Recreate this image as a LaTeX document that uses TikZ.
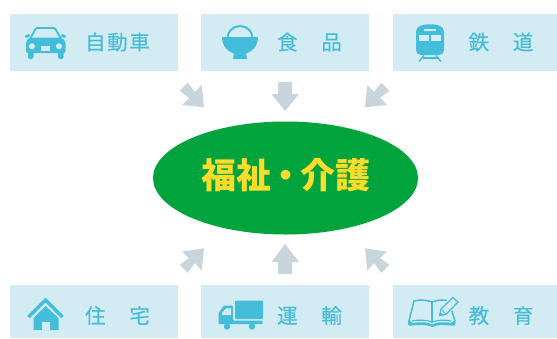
\documentclass[tikz,border=0pt]{standalone}
\usepackage{fontspec}
\usetikzlibrary{shapes.geometric}
\setmainfont{Noto Sans CJK JP}
\definecolor{boxc}{HTML}{D3ECF4}
\definecolor{icon}{HTML}{43BDD9}
\definecolor{labelc}{HTML}{45BCD8}
\definecolor{arrowc}{HTML}{C9D5DD}
\definecolor{hub}{HTML}{00A33C}
\definecolor{hubtext}{HTML}{FFDC2B}
\tikzset{
 x=1pt,y=-1pt,
 card/.style={fill=boxc,draw=none},
 cardlabel/.style={text=labelc,font=\fontsize{20.5}{24}\selectfont\addfontfeature{LetterSpace=8,FakeBold=0.3},inner sep=0pt,anchor=center},
 flow/.style={fill=arrowc,draw=none},
 ink/.style={fill=icon,draw=none},
 pen/.style={draw=icon,fill=none,line width=2pt},
 cut/.style={fill=boxc,draw=none},
}
\begin{document}
\begin{tikzpicture}
\useasboundingbox (0,0) rectangle (557,338);
\fill[white] (0,0) rectangle (557,338);
% cards
\fill[card] (10,14) rectangle (178,71);
\fill[card] (201,14) rectangle (369,71);
\fill[card] (393,14) rectangle (557,71);
\fill[card] (10,285) rectangle (178,338);
\fill[card] (201,285) rectangle (369,338);
\fill[card] (393,285) rectangle (557,338);
% labels
\node[cardlabel] (l1) at (117.5,42) {自動車};
\node[cardlabel] (l2) at (309.5,42) {食　品};
\node[cardlabel] (l3) at (501,42) {鉄　道};
\node[cardlabel] (l4) at (117.5,315.5) {住　宅};
\node[cardlabel] (l5) at (309.5,315.5) {運　輸};
\node[cardlabel] (l6) at (501,315.5) {教　育};
% hub
\node[ellipse,minimum width=265pt,minimum height=113pt,inner sep=0pt,fill=hub] (hub) at (285.5,178) {};
\node[text=hubtext,inner sep=0pt,font=\fontsize{35}{40}\bfseries\selectfont] (hubt) at (286,175.5) {福祉\kern-3pt・\kern-2.5pt介護};
% arrows
\fill[flow] (204,107.3)--(182,105)--(189,98)--(179.7,90.7)--(187.7,82.7)--(195,92)--(201.7,85)--cycle;
\fill[flow] (365,107.3)--(387,105)--(380,98)--(389.3,90.7)--(381.3,82.7)--(374,92)--(367.3,85)--cycle;
\fill[flow] (285,111)--(271.5,94)--(278,94)--(278,82)--(292,82)--(292,94)--(299,94)--cycle;
\fill[flow] (204,248.3)--(182,251.7)--(189,258)--(179.7,264.7)--(187.7,272.7)--(195,263)--(201.7,270.7)--cycle;
\fill[flow] (365,248.3)--(387,251.7)--(380,258)--(389.3,264.7)--(381.3,272.7)--(374,263)--(367.3,270.7)--cycle;
\fill[flow] (285,244)--(271.5,262)--(278,262)--(278,274)--(292,274)--(292,262)--(299,262)--cycle;
% car
\draw[pen,line width=1.8pt,line join=round] (30,39)--(35.5,29)--(37,28)--(54,28)--(55.5,29)--(61,39);
\fill[ink,rounded corners=2pt] (26,53)--(26,41)--(30,37.5)--(61,37.5)--(65.5,41)--(65.5,53)--cycle;
\fill[ink,rotate around={20:(27.5,36)}] (27.5,36) ellipse (2.5 and 1.7);
\fill[ink,rotate around={-20:(63.5,36)}] (63.5,36) ellipse (2.5 and 1.7);
\fill[ink,rounded corners=2pt] (28,50)rectangle(33.5,59);
\fill[ink,rounded corners=2pt] (58,50)rectangle(63.5,59);
\fill[cut] (32,46.3) circle (3);
\fill[cut] (59,46.3) circle (3);
\fill[cut] (41,46)rectangle(50,50.5);
% bowl
\draw[pen] (227.5,38) arc[start angle=180,end angle=360,x radius=12.5,y radius=12];
\fill[ink] (222,37)--(258,37) .. controls (258,46) and (252,52) .. (246,53.5)--(247,59)--(233,59)--(234,53.5) .. controls (228,52) and (222,46) .. (222,37)--cycle;
% train
\fill[ink] (416,32) .. controls (416,26) and (422,24.3) .. (430,24.3) .. controls (438,24.3) and (444,26) .. (444,32)--(444,50) .. controls (444,53) and (442,55) .. (439,55)--(421,55) .. controls (418,55) and (416,53) .. (416,50)--cycle;
\fill[cut] (424,28.8)rectangle(436,31);
\fill[cut] (419,35)rectangle(429,41);
\fill[cut] (431,35)rectangle(441,41);
\draw[pen,line width=1.4pt] (424,55.5)--(419,61.5);
\draw[pen,line width=1.4pt] (436,55.5)--(441,61.5);
\draw[pen,line width=1.4pt] (422.5,58)--(437.5,58);
% house
\draw[pen,line width=3.4pt,miter limit=10] (28.5,317)--(45.5,300)--(62.5,317);
\fill[ink] (33.5,318)--(45.5,306)--(58.5,318)--(58.5,330)--(33.5,330)--cycle;
\fill[cut] (42,322)rectangle(49.5,330);
% truck
\fill[ink,rounded corners=1pt] (235,300.5)rectangle(263,319);
\fill[ink,rounded corners=1pt] (218.5,324)--(218.5,313)--(224,305.5)--(233,305.5)--(233,320.5)--(262.5,320.5)--(262.5,324)--cycle;
\fill[cut] (222,313)--(226,308.3)--(231,308.3)--(231,315)--(222,315)--cycle;
\fill[ink] (227,326.5) circle (3.2);
\fill[ink] (252,326.5) circle (3.2);
% book
\draw[pen,line width=1.5pt,line join=round] (432,302) .. controls (427,300) and (419,299.5) .. (414,301) -- (409,321);
\draw[pen,line width=1.5pt] (432,302) -- (432,323);
\draw[pen,line width=1.5pt,line join=round] (451.5,310) -- (455,321);
\draw[pen,line width=1.5pt,line join=round] (432,302) .. controls (437,300) and (443,299.5) .. (447,300.5);
\draw[pen,line width=1.1pt] (412,321) .. controls (418,319.5) and (427,320) .. (432,322) .. controls (437,320) and (445,319.5) .. (451,321);
\fill[ink] (408.5,320) -- (413,323) .. controls (420,321.5) and (428,322) .. (432,324.5) .. controls (436,322) and (445,321.5) .. (451,323) -- (455,320) .. controls (456.5,324) and (455,326) .. (452,325.7) .. controls (445,324.5) and (437,324.5) .. (432.5,327) .. controls (427,324.5) and (418,324.5) .. (411,325.7) .. controls (408,326) and (407,324) .. (408.5,320) -- cycle;
\fill[cut] (437.5,316.5)--(439.5,308)--(453,295)--(460.5,301.5)--(447,315.5)--cycle;
\draw[pen,line width=1.2pt,line join=round] (439.5,315.7)--(441,309)--(453,297.5)--(458,302)--(446,314.3)--cycle;
\draw[pen,line width=.8pt] (442,310)--(445.5,313.5);
\fill[ink] (439.5,315.7)--(440.3,312)--(443,314.7)--cycle;
\end{tikzpicture}
\end{document}
